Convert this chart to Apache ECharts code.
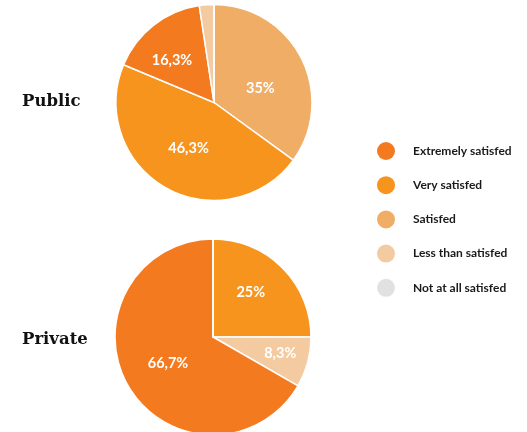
<!DOCTYPE html>
<html>
<head>
<meta charset="utf-8">
<script src="https://cdn.jsdelivr.net/npm/echarts@6/dist/echarts.min.js"></script>
<style>
  html, body { margin: 0; padding: 0; background: #fff; }
  #chart { width: 527px; height: 432px; }
</style>
</head>
<body>
<div id="chart"></div>
<script>
// Satisfaction categories, in legend order
const categories = ['Extremely satisfied', 'Very satisfied', 'Satisfied', 'Less than satisfied', 'Not at all satisfied'];
const legendLabels = ['Extremely satisfed', 'Very satisfed', 'Satisfed', 'Less than satisfed', 'Not at all satisfed'];
const colors = ['#F47A20', '#F7941E', '#F0AD66', '#F4CBA0', '#E1E1E4'];

// Share of respondents (%), listed clockwise from 12 o'clock
const publicOrder = ['Satisfied', 'Very satisfied', 'Extremely satisfied', 'Less than satisfied', 'Not at all satisfied'];
const publicValues = [35, 46.3, 16.3, 2.4, 0];
const privateOrder = ['Very satisfied', 'Less than satisfied', 'Extremely satisfied', 'Satisfied', 'Not at all satisfied'];
const privateValues = [25, 8.3, 66.7, 0, 0];

const groupTitles = ['Public', 'Private'];

// label nudges to sit labels where they read best inside each slice
const labelOffsets = {
  Public: { 'Satisfied': [0, 9], 'Extremely satisfied': [-10, -1] },
  Private: { 'Very satisfied': [1, -8], 'Less than satisfied': [17, 3] }
};

const colorOf = name => colors[categories.indexOf(name)];
const fmt = v => String(v).replace('.', ',') + '%';

function buildData(order, values, group) {
  return order.map((name, i) => {
    const item = { name, value: values[i], itemStyle: { color: colorOf(name) } };
    const off = labelOffsets[group][name];
    if (off) item.label = { offset: off };
    return item;
  });
}

function pieSeries(group, order, values, center) {
  return {
    type: 'pie',
    name: group,
    radius: 98,
    center: center,
    startAngle: 90,
    clockwise: true,
    avoidLabelOverlap: false,
    animation: false,
    silent: true,
    itemStyle: { borderColor: '#ffffff', borderWidth: 1.5 },
    label: {
      show: true,
      position: 'inside',
      color: '#ffffff',
      fontFamily: 'Lato',
      fontWeight: 'bold',
      fontSize: 14.5,
      formatter: p => (p.value >= 5 ? fmt(p.value) : '')
    },
    labelLine: { show: false },
    emphasis: { disabled: true },
    data: buildData(order, values, group)
  };
}

const titleStyle = { fontFamily: 'DejaVu Serif', fontWeight: 'bold', fontSize: 16.5, color: '#111111' };

const chart = echarts.init(document.getElementById('chart'), null, { renderer: 'canvas' });
chart.setOption({
  backgroundColor: '#ffffff',
  title: [
    { text: groupTitles[0], left: 22, top: 93, padding: 0, textStyle: titleStyle },
    { text: groupTitles[1], left: 22, top: 331, padding: 0, textStyle: titleStyle }
  ],
  legend: {
    orient: 'vertical',
    left: 377,
    top: 142,
    padding: 0,
    icon: 'circle',
    itemWidth: 18,
    itemHeight: 18,
    itemGap: 16.2,
    selectedMode: false,
    data: categories,
    formatter: name => legendLabels[categories.indexOf(name)],
    itemStyle: { borderWidth: 0 },
    textStyle: {
      fontFamily: 'Lato',
      fontWeight: 'bold',
      fontSize: 12,
      color: '#1a1a1a',
      padding: [0, 0, 0, 13]
    }
  },
  series: [
    pieSeries('Public', publicOrder, publicValues, [214, 102.5]),
    pieSeries('Private', privateOrder, privateValues, [213, 337])
  ]
});
</script>
</body>
</html>
